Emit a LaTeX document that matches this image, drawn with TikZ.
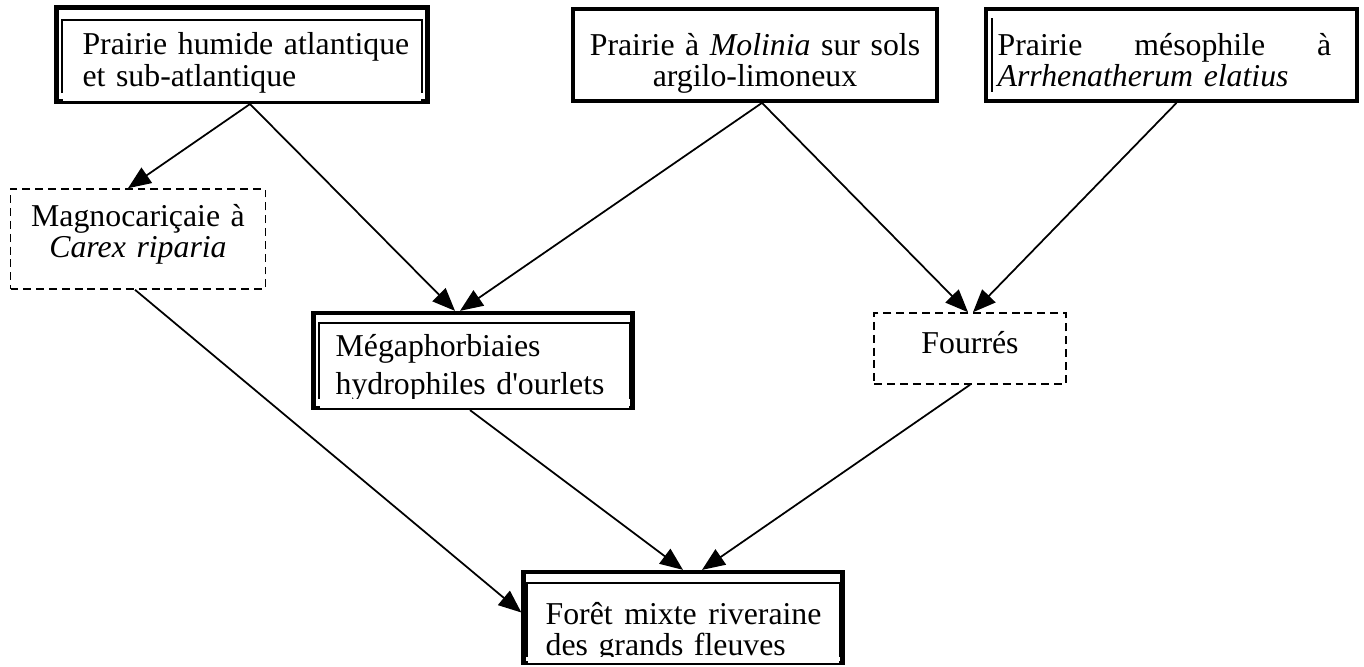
\documentclass[tikz,border=0pt]{standalone}
\usepackage{fontspec}
\setmainfont{Liberation Serif}
\usetikzlibrary{arrows.meta,calc}

\tikzset{
	box/.style={shape=rectangle, inner sep=0pt, font=\fontsize{18.1pt}{18.1pt}\selectfont},
	thickbox/.style={box, draw=black, line width=2.6pt, align=left},
	plainbox/.style={box, draw=black, line width=2.3pt},
	dashbox/.style={box, draw=black, line width=1.1pt, dash pattern=on 4.5pt off 2.8pt, align=center},
	innerframe/.style={draw=black, line width=1.1pt},
	link/.style={-{Triangle[length=13pt,width=10.5pt]}, line width=1pt},
}

\begin{document}
\begin{tikzpicture}[x=0.02cm, y=-0.02cm]
	\useasboundingbox (0,0) rectangle (1364,666);

	\node[thickbox, text width=210.9pt, text height=26.9pt, text depth=26.9pt] (prairie) at (242,54.5) {\hspace*{14.7pt}Prairie humide atlantique\\\hspace*{14.7pt}et sub-atlantique};
	\node[plainbox, align=center, text width=207.5pt, text height=26.1pt, text depth=26.1pt] (molinia) at (755,55) {Prairie à \textit{Molinia} sur sols\\argilo-limoneux};
	\node[plainbox, align=left, text width=211.5pt, text height=26.1pt, text depth=26.1pt] (arrh) at (1171.5,55) {\hspace*{6.8pt}\hbox to 189.9pt{Prairie\hfill mésophile\hfill à}\\\hspace*{6.8pt}\textit{Arrhenatherum elatius}};
	\node[dashbox, text width=145.1pt, text height=21pt, text depth=35.7pt] (magno) at (138,239) {Magnocariçaie à\\\textit{Carex riparia}};
	\node[thickbox, text width=181.4pt, text height=24.4pt, text depth=29.5pt] (megaph) at (473,360.5) {\hspace*{12.5pt}Mégaphorbiaies\\[4pt]\hspace*{12.5pt}hydrophiles d\textquotesingle ourlets};
	\node[dashbox, text width=108.8pt, text height=23.2pt, text depth=17pt] (fourres) at (970,348.5) {Fourrés};
	\node[thickbox, text width=181.4pt, text height=29.5pt, text depth=22.1pt] (foret) at (683,617.5) {\hspace*{12.5pt}\hbox to 157pt{Forêt\hfill mixte\hfill riveraine}\\\hspace*{12.5pt}des grands fleuves};

	% text cut at the bottom of the inner frames
	\fill[white] ($(prairie.south west)+(9,-11)$) rectangle ($(prairie.south east)+(-9,-2.6)$);
	\fill[white] ($(megaph.south west)+(9,-11)$) rectangle ($(megaph.south east)+(-6,-2.6)$);
	\fill[white] ($(foret.south west)+(7,-8)$) rectangle ($(foret.south east)+(-6,-2.6)$);

	% inner frames
	\draw[innerframe] ($(prairie.south west)+(8,-11)$) |- ($(prairie.north east)+(-8,15)$) -- ($(prairie.south east)+(-8,-11)$);
	\draw[innerframe] ($(megaph.south west)+(8,-11)$) |- ($(megaph.north east)+(-5,12)$) -- ($(megaph.south east)+(-5,-11)$);
	\draw[innerframe] ($(foret.south west)+(6,-8)$) |- ($(foret.north east)+(-5,13)$) -- ($(foret.south east)+(-5,-8)$);
	\draw[innerframe] ($(arrh.north west)+(8,11)$) -- ($(arrh.south west)+(8,-11)$);

	\draw[link] ($(prairie.south)+(8,0)$) -- ($(magno.north)+(-10,0)$);
	\draw[link] ($(prairie.south)+(8,0)$) -- ($(megaph.north)+(-18,0)$);
	\draw[link] ($(molinia.south)+(7,0)$) -- ($(megaph.north)+(-13,0)$);
	\draw[link] ($(molinia.south)+(7,0)$) -- ($(fourres.north)+(-2,0)$);
	\draw[link] ($(arrh.south)+(5,0)$) -- ($(fourres.north)+(3,0)$);
	\draw[link] ($(magno.south)+(-3,0)$) -- ($(foret.west)+(0,-5)$);
	\draw[link] ($(megaph.south)+(-3,0)$) -- (foret.north);
	\draw[link] (fourres.south) -- ($(foret.north)+(19,0)$);
\end{tikzpicture}
\end{document}
